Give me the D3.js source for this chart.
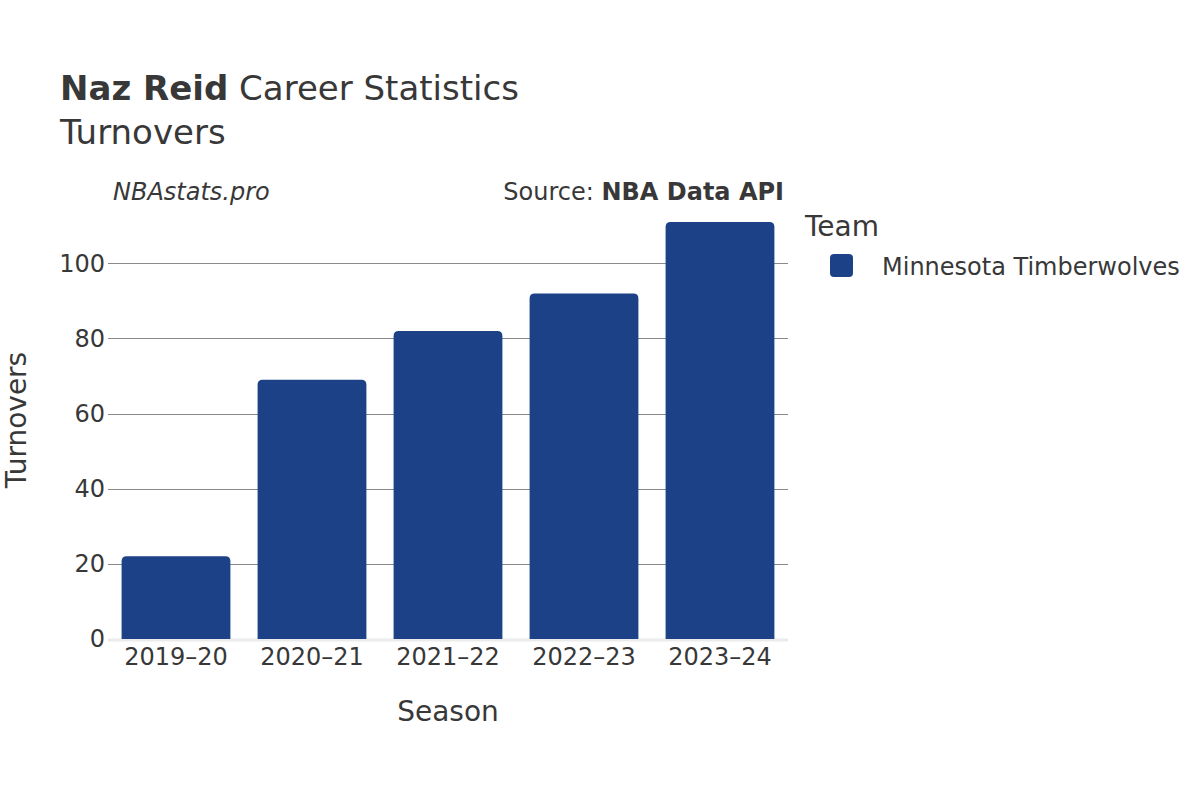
<!DOCTYPE html>
<html>
<head>
<meta charset="utf-8">
<script src="https://cdn.jsdelivr.net/npm/d3@7"></script>
<style>
  body { margin: 0; background: #fff; }
  text { font-family: "DejaVu Sans", sans-serif; fill: #383838; }
</style>
</head>
<body>
<div class="graph"></div>
<script>
const seasons = ["2019–20", "2020–21", "2021–22", "2022–23", "2023–24"]
const turnovers = [22, 69, 82, 92, 111]
const yTicks = [0, 20, 40, 60, 80, 100]
const team = "Minnesota Timberwolves"
const barColor = "#1c4187"

const width = 1200, height = 800
const margin = {top: 207, right: 412, bottom: 161, left: 108}

const svg = d3.select(".graph").append("svg")
    .attr("width", width)
    .attr("height", height)

svg.append("rect")
    .attr("width", "100%")
    .attr("height", "100%")
    .style("fill", "#fff")

const scaleX = d3.scaleBand()
    .domain(seasons)
    .range([margin.left, width - margin.right])
    .paddingInner(0.2)
    .paddingOuter(0.1)

const scaleY = d3.scaleLinear()
    .domain([0, 115])
    .range([height - margin.bottom, margin.top])

// grid
svg.append("g")
    .selectAll("line")
    .data(yTicks.filter(d => d > 0))
    .join("line")
    .attr("x1", margin.left)
    .attr("x2", width - margin.right)
    .attr("y1", d => Math.round(scaleY(d)) + 0.5)
    .attr("y2", d => Math.round(scaleY(d)) + 0.5)
    .attr("stroke", "#8a8a8a")
    .attr("stroke-width", 1)

// zero line
svg.append("line")
    .attr("x1", margin.left)
    .attr("x2", width - margin.right)
    .attr("y1", scaleY(0) + 1)
    .attr("y2", scaleY(0) + 1)
    .attr("stroke", "#ebebeb")
    .attr("stroke-width", 3)

// bars with rounded top corners
const r = 5
svg.append("g")
    .selectAll("path")
    .data(seasons.map((s, i) => ({season: s, value: turnovers[i]})))
    .join("path")
    .attr("fill", barColor)
    .attr("d", d => {
        const x0 = scaleX(d.season), x1 = x0 + scaleX.bandwidth()
        const y0 = scaleY(0), y1 = scaleY(d.value)
        return `M${x0},${y0}V${y1 + r}Q${x0},${y1} ${x0 + r},${y1}H${x1 - r}Q${x1},${y1} ${x1},${y1 + r}V${y0}Z`
    })

// axes
const yAxis = g => g
    .attr("transform", `translate(${margin.left - 3}, 0)`)
    .call(d3.axisLeft(scaleY).tickValues(yTicks).tickSize(0).tickPadding(0))
    .call(g => g.select(".domain").remove())

const xAxis = g => g
    .attr("transform", `translate(0, ${scaleY(0)})`)
    .call(d3.axisBottom(scaleX).tickSize(0).tickPadding(9))
    .call(g => g.select(".domain").remove())

svg.append("g").call(yAxis)
    .selectAll("text").style("font-size", "24px").attr("fill", "#383838")
svg.append("g").call(xAxis)
    .selectAll("text").style("font-size", "24px").attr("fill", "#383838")

// titles
const title = svg.append("text").attr("x", 60).attr("y", 100).style("font-size", "34px")
title.append("tspan").style("font-weight", "bold").text("Naz Reid")
title.append("tspan").text(" Career Statistics")
svg.append("text").attr("x", 60).attr("y", 144).style("font-size", "34px").text("Turnovers")

svg.append("text").attr("x", 113).attr("y", 200)
    .style("font-size", "24px").style("font-style", "italic").text("NBAstats.pro")
const src = svg.append("text").attr("x", 784).attr("y", 200)
    .attr("text-anchor", "end").style("font-size", "24px")
src.append("tspan").text("Source: ")
src.append("tspan").style("font-weight", "bold").text("NBA Data API")

svg.append("text")
    .attr("x", (margin.left + width - margin.right) / 2)
    .attr("y", 721)
    .attr("text-anchor", "middle")
    .style("font-size", "28px")
    .text("Season")

svg.append("text")
    .attr("transform", `translate(26, ${scaleY(0) - 219}) rotate(-90)`)
    .attr("text-anchor", "middle")
    .style("font-size", "28px")
    .text("Turnovers")

// legend
svg.append("text").attr("x", 805).attr("y", 236).style("font-size", "28px").text("Team")
svg.append("rect")
    .attr("x", 830).attr("y", 254)
    .attr("width", 23).attr("height", 23)
    .attr("rx", 4)
    .attr("fill", barColor)
svg.append("text").attr("x", 882).attr("y", 275).style("font-size", "24px").text(team)
</script>
</body>
</html>
